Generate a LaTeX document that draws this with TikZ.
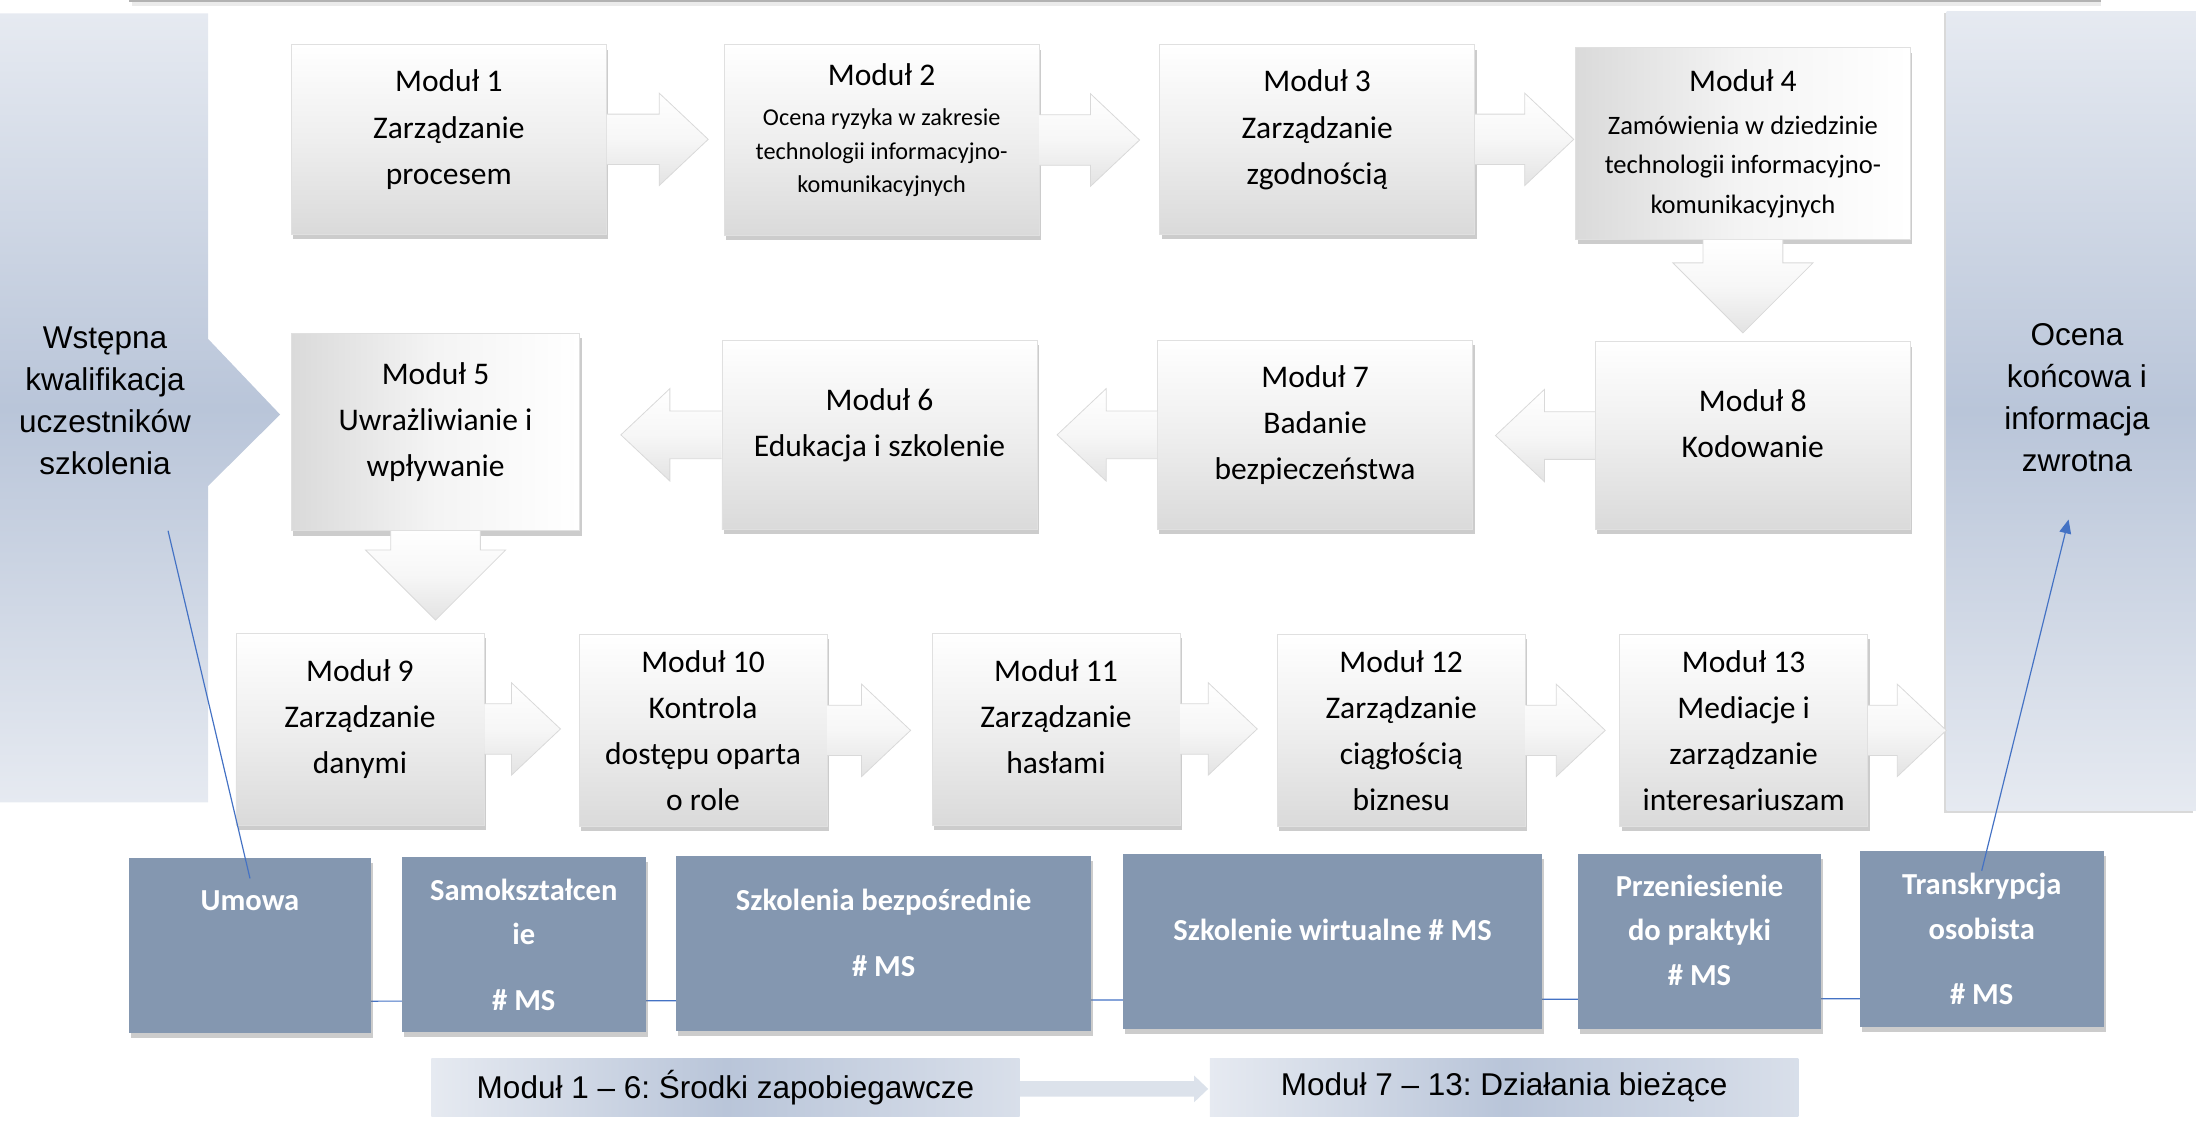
\documentclass[tikz,border=0pt]{standalone}
\usepackage{fontspec}
\setmainfont{Carlito}
\newfontfamily\arialfont{Liberation Sans}
\usetikzlibrary{calc,shadows,arrows.meta}
\frenchspacing

\definecolor{slate}{HTML}{8497B0}
\definecolor{linkblue}{HTML}{4472C4}
\definecolor{panellight}{HTML}{E6EAF1}
\definecolor{paneldark}{HTML}{B9C5D9}
\definecolor{boxgray}{HTML}{DADADA}
\definecolor{legendarrowfill}{HTML}{DCE2EB}

\newcommand{\modfont}{\fontsize{16}{23.4}\selectfont}
\newcommand{\subA}{\fontsize{12.3}{17}\selectfont}
\newcommand{\subB}{\fontsize{13.5}{19.9}\selectfont}
\newcommand{\bottomfont}{\fontsize{15.5}{22.7}\selectfont\bfseries}
\newcommand{\panelfont}{\arialfont\fontsize{16}{21.3}\selectfont}
\newcommand{\lift}{\\[-11pt]\mbox{}}

\newcommand{\modarrowR}[3]{%
  \coordinate (tip) at ($(#1.east -| #2.west)+(-#3,0)$);
  \path[blockarrow] ($(#1.east)+(0,-18)$) -- ($(tip)+(-35,-18)$) -- ($(tip)+(-35,-33)$) -- (tip)
    -- ($(tip)+(-35,33)$) -- ($(tip)+(-35,18)$) -- ($(#1.east)+(0,18)$);}
\newcommand{\modarrowL}[3]{%
  \coordinate (tip) at ($(#1.west -| #2.east)+(#3,0)$);
  \path[blockarrow] ($(#1.west)+(0,-17)$) -- ($(tip)+(35,-17)$) -- ($(tip)+(35,-33)$) -- (tip)
    -- ($(tip)+(35,33)$) -- ($(tip)+(35,17)$) -- ($(#1.west)+(0,17)$);}
\newcommand{\modarrowD}[4]{%
  \coordinate (tip) at ($(#1.south |- #2.north)+(0,-#3)$);
  \path[blockarrow] ($(#1.south)+(-#4,0)$) -- ($(tip)+(-#4,-50)$) -- ($(tip)+(-50,-50)$) -- (tip)
    -- ($(tip)+(50,-50)$) -- ($(tip)+(#4,-50)$) -- ($(#1.south)+(#4,0)$);}

\begin{document}
\begin{tikzpicture}[x=0.025cm, y=-0.025cm,
  modbox/.style={draw=black!12, line width=0.4pt, top color=white, bottom color=boxgray, middle color=white!55!boxgray,
    inner sep=0pt, align=center, font=\modfont,
    drop shadow={shadow xshift=1pt, shadow yshift=-2.5pt, opacity=.4}},
  modboxside/.style={modbox, left color=boxgray, right color=white, middle color=white!70!boxgray},
  blockarrow/.style={draw=black!15, line width=0.4pt, top color=white, bottom color=black!11, middle color=white!70!black!11},
  bottombox/.style={fill=slate, text=white, inner sep=0pt, align=center, font=\bottomfont,
    minimum height=3.125cm, drop shadow={shadow xshift=1pt, shadow yshift=-2.5pt, opacity=.4}},
  panel/.style={top color=panellight, bottom color=panellight, middle color=paneldark},
  paneltext/.style={align=center, font=\panelfont, inner sep=0pt},
  legendbox/.style={left color=panellight, right color=panellight!70!paneldark, middle color=paneldark,
    inner sep=0pt, minimum width=10.5cm, minimum height=1.04cm, font=\arialfont\fontsize{16}{19}\selectfont},
  link/.style={draw=linkblue, line width=0.6pt}]
\useasboundingbox (0,0) rectangle (1568,800);

\fill[black!8] (94,1.2) rectangle (1500,4.5);
\fill[black!30] (92,-2) rectangle (1500,1.2);

\shade[panel] (0,9.5) -- (148.6,9.5) -- (148.6,242) -- (200,296) -- (148.6,347) -- (148.6,573) -- (0,573) -- cycle;
\node[panel, inner sep=0pt, minimum width=4.45cm, minimum height=14.275cm,
  drop shadow={shadow xshift=-1.5pt, shadow yshift=-1pt, opacity=.3}] (finalbox) at (1479,293.5) {};
\node[paneltext] (prequal) at (75,286) {Wstępna\\kwalifikacja\\uczestników\\szkolenia};
\node[paneltext] (final) at (1483,284) {Ocena\\końcowa i\\informacja\\zwrotna};

\coordinate (railL) at (178,715);
\coordinate (railR) at (1415,713);
\draw[link] (railL) -- (railR);

\node[modbox, minimum width=5.625cm, minimum height=3.375cm] (m1) at (320.5,99.5) {Moduł 1\\Zarządzanie\\procesem\lift};
\node[modbox, minimum width=5.625cm, minimum height=3.4cm] (m2) at (629.5,100) {Moduł 2\\[-2.8pt]{\subA Ocena ryzyka w zakresie}\\[-6.4pt]{\subA technologii informacyjno-}\\[-6.4pt]{\subA komunikacyjnych}\lift};
\node[modbox, minimum width=5.625cm, minimum height=3.375cm] (m3) at (940.5,99.5) {Moduł 3\\Zarządzanie\\zgodnością\lift};
\node[modboxside, minimum width=5.975cm, minimum height=3.425cm] (m4) at (1244.5,102.5) {Moduł 4\\[-1.4pt]{\subB Zamówienia w dziedzinie}\\[-3.5pt]{\subB technologii informacyjno-}\\[-3.5pt]{\subB komunikacyjnych}};
\node[modbox, minimum width=5.625cm, minimum height=3.35cm] (m8) at (1251.5,311) {Moduł 8\\Kodowanie\lift};
\node[modbox, minimum width=5.625cm, minimum height=3.375cm] (m7) at (939,310.5) {Moduł 7\\Badanie\\bezpieczeństwa\lift};
\node[modbox, minimum width=5.625cm, minimum height=3.375cm] (m6) at (628,310.5) {Moduł 6\\Edukacja i szkolenie\lift};
\node[modboxside, minimum width=5.15cm, minimum height=3.525cm] (m5) at (311,308.5) {Moduł 5\\Uwrażliwianie i\\wpływanie\lift};
\node[modbox, minimum width=4.425cm, minimum height=3.425cm] (m9) at (257,520.5) {Moduł 9\\Zarządzanie\\danymi\lift};
\node[modbox, minimum width=4.425cm, minimum height=3.425cm] (m10) at (502,521.5) {Moduł 10\\Kontrola\\dostępu oparta\\o role};
\node[modbox, minimum width=4.425cm, minimum height=3.425cm] (m11) at (754,520.5) {Moduł 11\\Zarządzanie\\hasłami\lift};
\node[modbox, minimum width=4.425cm, minimum height=3.425cm] (m12) at (1000.5,521.5) {Moduł 12\\Zarządzanie\\ciągłością\\biznesu};
\node[modbox, minimum width=4.425cm, minimum height=3.425cm] (m13) at (1245,521.5) {Moduł 13\\Mediacje i\\zarządzanie\\interesariuszam};

\modarrowR{m1}{m2}{11}
\modarrowR{m2}{m3}{14}
\modarrowR{m3}{m4}{1}
\modarrowD{m4}{m8}{6}{28.5}
\modarrowL{m8}{m7}{16}
\modarrowL{m7}{m6}{14}
\modarrowL{m6}{m5}{29}
\modarrowD{m5}{m9}{9}{32}
\modarrowR{m9}{m10}{13}
\modarrowR{m10}{m11}{15}
\modarrowR{m11}{m12}{14}
\modarrowR{m12}{m13}{10}
\modarrowR{m13}{finalbox}{0}

\node[bottombox, minimum width=4.325cm] (b1) at (178.5,675) {Umowa\\[22.7pt]\mbox{}};
\node[bottombox, minimum width=4.35cm] (b2) at (374,674.5) {Samokształcen\\ie\\[10.7pt]\# MS};
\node[bottombox, minimum width=7.4cm] (b3) at (631,673.5) {Szkolenia bezpośrednie\\[10.7pt]\# MS\\[-12pt]\mbox{}};
\node[bottombox, minimum width=7.475cm] (b4) at (951.5,672.5) {Szkolenie wirtualne \# MS\\[-10.7pt]\mbox{}};
\node[bottombox, minimum width=4.325cm] (b5) at (1213.5,672.5) {Przeniesienie\\do praktyki\\\# MS\\[-10.7pt]\mbox{}};
\node[bottombox, minimum width=4.35cm] (b6) at (1415,670.5) {Transkrypcja\\osobista\\[10.7pt]\# MS};

\node[legendbox] (l1) at (518,776.5) {Moduł 1 – 6: Środki zapobiegawcze};
\node[legendbox] (l2) at (1074,776.5) {Moduł 7 – 13: Działania bieżące};
\coordinate (ltip) at ($(l1.east -| l2.west)+(-1,1)$);
\fill[legendarrowfill] ($(l1.east)+(0,-4.5)$) -- ($(ltip)+(-10,-5.5)$) -- ($(ltip)+(-10,-9.5)$) -- (ltip)
  -- ($(ltip)+(-10,9.5)$) -- ($(ltip)+(-10,5.5)$) -- ($(l1.east)+(0,6.5)$) -- cycle;

\draw[link] ($(b1.north)+(0,15)$) -- ($(prequal)+(45,93)$);
\draw[link, -{Triangle[length=7pt,width=6pt]}] ($(b6.north)+(0,14)$) -- ($(final)+(-6,87)$);
\end{tikzpicture}
\end{document}
